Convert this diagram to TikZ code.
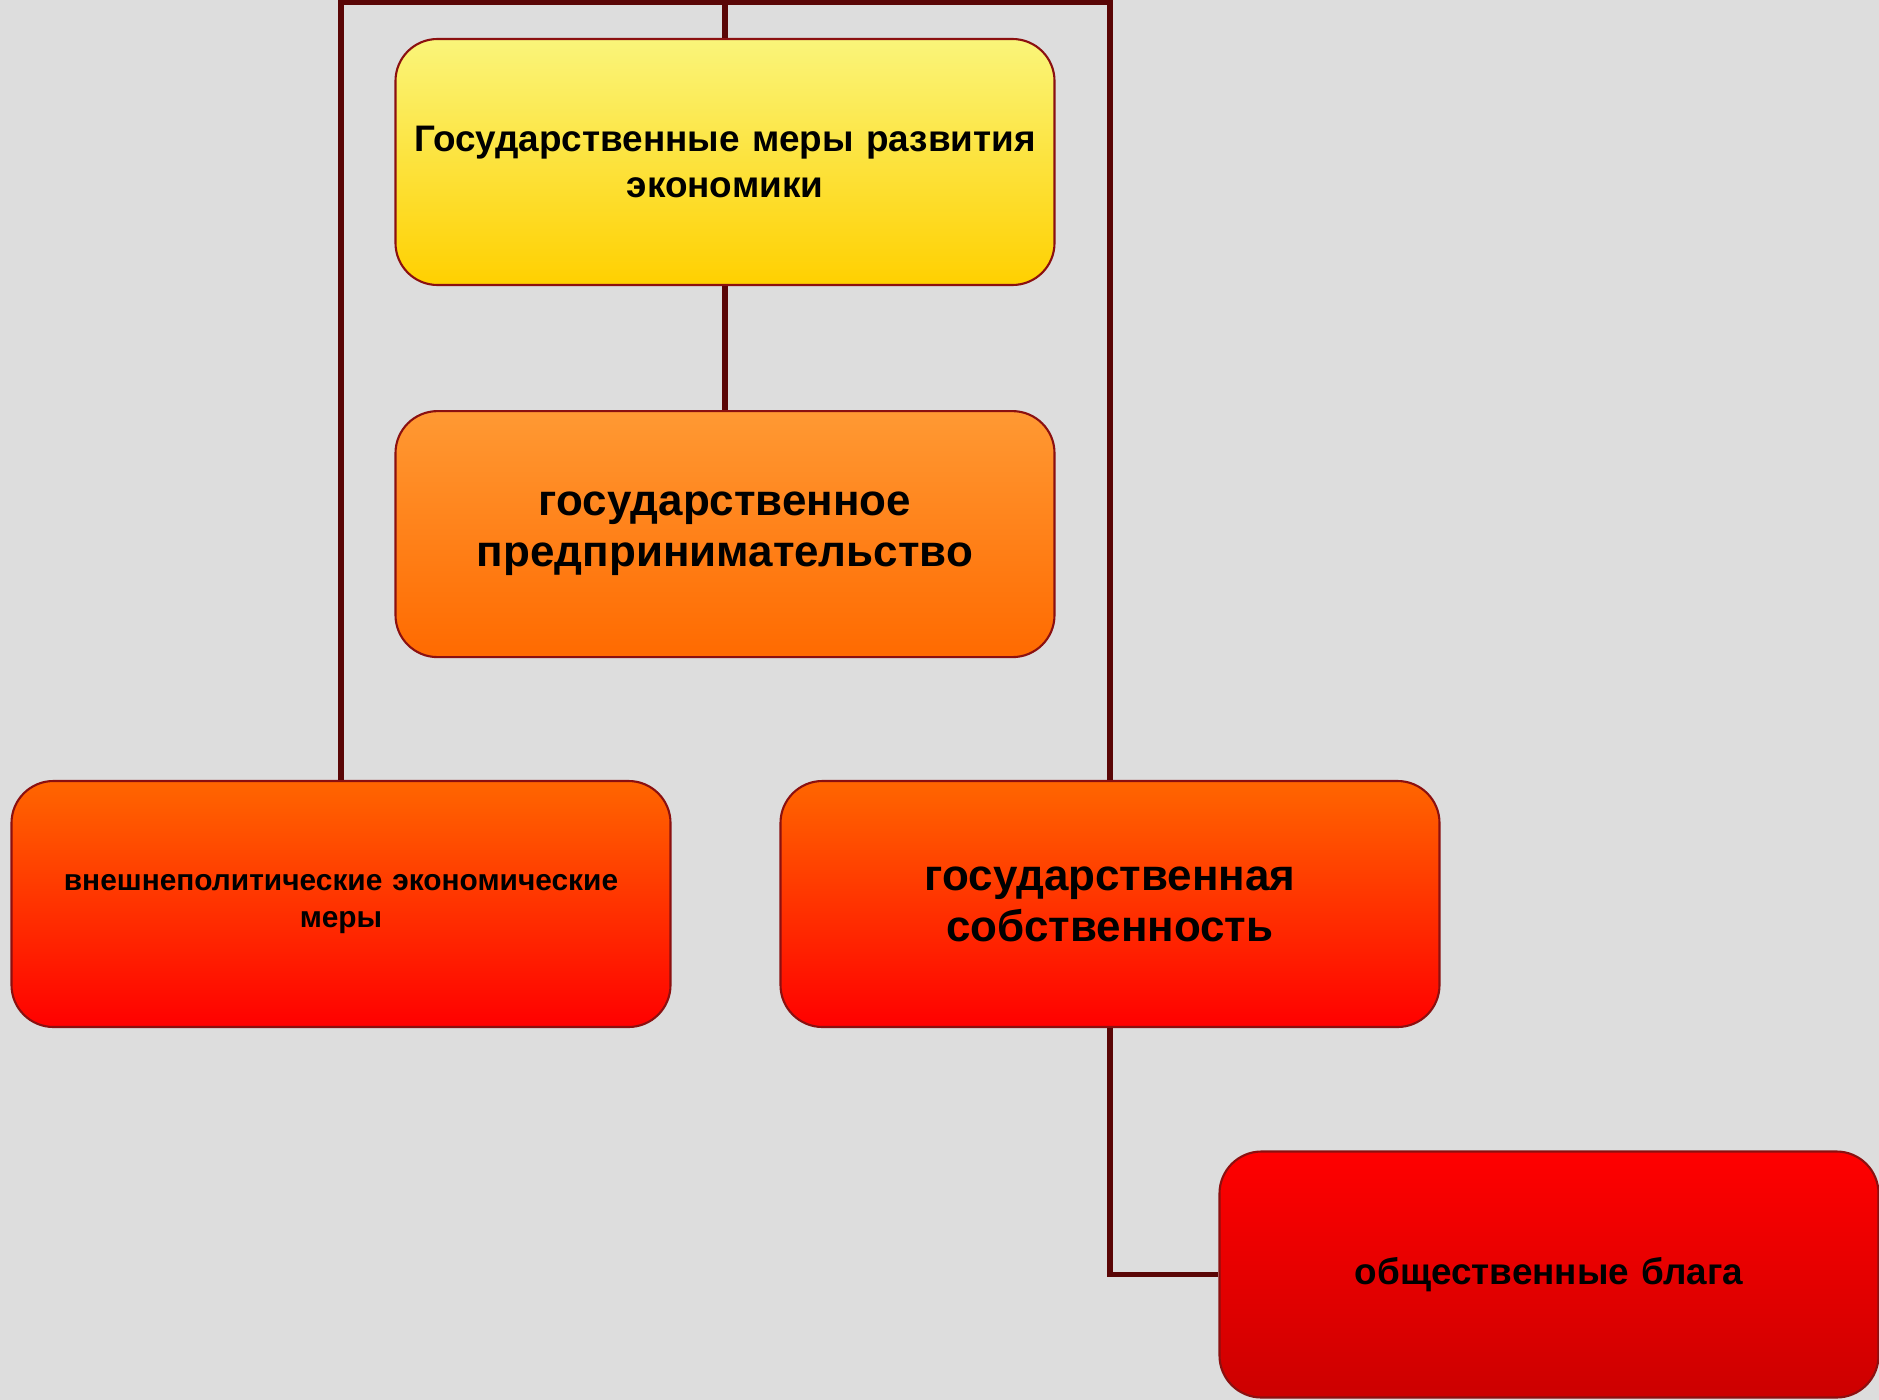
\documentclass[tikz,border=0pt]{standalone}
\usepackage{fontspec}
\setmainfont{Liberation Sans}
\usepackage{tikz}
\usetikzlibrary{positioning}
\definecolor{bg}{HTML}{DDDDDD}
\definecolor{wire}{HTML}{5A0606}
\definecolor{rim}{HTML}{8B1010}
\tikzset{block/.style={draw=rim,line width=0.6pt,rounded corners=0.42cm,minimum width=6.59cm,minimum height=2.46cm,inner sep=0pt,text width=6.5cm,align=center,font=\bfseries},
  link/.style={draw=wire,line width=1.45pt}}

\begin{document}
\begin{tikzpicture}
                   \fill[bg] (0,0) rectangle (18.79,-14);
                   \useasboundingbox (0,0) rectangle (18.79,-14);
                   \node[block,top color={rgb,255:red,250;green,245;blue,122},bottom color={rgb,255:red,255;green,208;blue,0},font=\bfseries\fontsize{10.5}{13}\selectfont] (root) at (7.25,-1.62) {Государственные меры развития\\ экономики};
                   \node[block,top color={rgb,255:red,255;green,153;blue,51},bottom color={rgb,255:red,255;green,106;blue,0},font=\bfseries\fontsize{12.5}{14.5}\selectfont] (entr) [below=1.24cm of root] {государственное\\ предпринимательство};
                   \node[block,top color={rgb,255:red,255;green,102;blue,0},bottom color={rgb,255:red,255;green,0;blue,0},font=\bfseries\fontsize{8.5}{10.3}\selectfont] (ext) at (3.41,-9.04) {внешнеполитические экономические\\ меры};
                   \node[block,top color={rgb,255:red,255;green,102;blue,0},bottom color={rgb,255:red,255;green,0;blue,0},font=\bfseries\fontsize{12.5}{14.5}\selectfont] (own) at (11.10,-9.04) {государственная\\ собственность};
                   \node[block,top color={rgb,255:red,255;green,0;blue,0},bottom color={rgb,255:red,204;green,0;blue,0},font=\bfseries\fontsize{10.5}{13}\selectfont] (goods) at (15.49,-12.745) {общественные блага};
                   \coordinate (bar) at (7.25,-0.025);
                    \path[link]
                    (ext.north) |- (bar) -| (own.north)
                    (bar) -- (root.north)
                    (root.south) -- (entr.north)
                    (own.south) |- (goods.west);
                \end{tikzpicture}
\end{document}
